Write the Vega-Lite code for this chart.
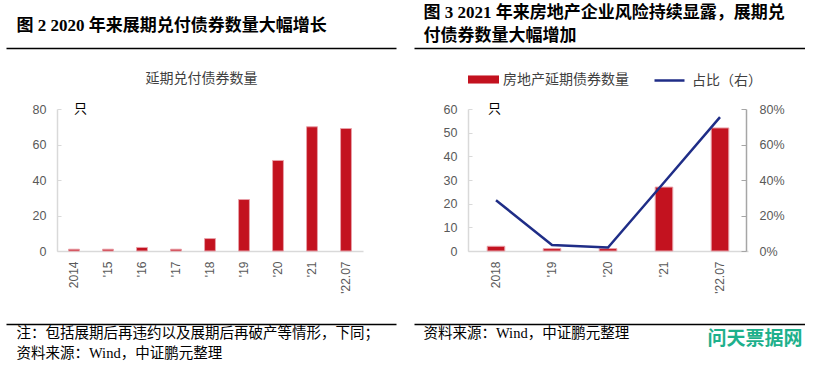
{
  "$schema": "https://vega.github.io/schema/vega-lite/v6.json",
  "padding": {"left": 3, "top": 0, "right": 0, "bottom": 0},
  "background": "white",
  "bounds": "flush",
  "spacing": 18,
  "resolve": {"scale": {"fill": "independent", "stroke": "independent"}, "legend": {"fill": "independent", "stroke": "independent"}},
  "config": {
    "view": {"stroke": null},
    "axis": {"labelFont": "Liberation Sans", "titleFont": "Noto Sans CJK SC", "grid": false},
    "legend": {"labelFont": "Noto Sans CJK SC"}
  },
  "hconcat": [
    {
      "width": 390,
      "height": 365,
      "layer": [
        {
          "data": {"values": [
            {"period": "2014", "count": 1},
            {"period": "'15", "count": 1},
            {"period": "'16", "count": 2},
            {"period": "'17", "count": 1},
            {"period": "'18", "count": 7},
            {"period": "'19", "count": 29},
            {"period": "'20", "count": 51},
            {"period": "'21", "count": 70},
            {"period": "'22.07", "count": 69}
          ]},
          "mark": {"type": "bar", "color": "#C3121F", "stroke": "#E8A0A8", "strokeWidth": 1},
          "encoding": {
            "x": {"field": "period", "type": "ordinal", "sort": null,
              "scale": {"range": [51, 357], "paddingInner": 0.68, "paddingOuter": 0.34},
              "axis": {"orient": "bottom", "offset": -114, "domainColor": "#D9D9D9", "domainWidth": 1.5, "ticks": false, "labelAngle": -90, "labelAlign": "right", "labelBaseline": "middle", "labelPadding": 10, "labelFontSize": 12, "labelColor": "#595959", "title": null}},
            "y": {"field": "count", "type": "quantitative",
              "scale": {"domain": [0, 80], "range": [251, 109], "nice": false, "zero": true},
              "axis": {"orient": "left", "offset": -51, "values": [0, 20, 40, 60, 80], "domainColor": "#D9D9D9", "domainWidth": 1.5, "tickColor": "#D9D9D9", "tickSize": -4, "labelPadding": 15, "labelFontSize": 12.5, "labelColor": "#595959", "title": "只", "titleAngle": 0, "titleX": 23, "titleY": 108, "titleAlign": "center", "titleBaseline": "middle", "titleFontSize": 13, "titleFontWeight": "normal", "titleColor": "#000000"}}
          }
        },
        {
          "data": {"values": [{}]},
          "mark": {"type": "point", "opacity": 0},
          "encoding": {
            "x": {"datum": 0, "type": "quantitative", "scale": {"domain": [0, 1]},
              "axis": {"orient": "top", "offset": 0, "domain": false, "ticks": false, "labels": false, "title": "图 2  2020 年来展期兑付债券数量大幅增长", "titleX": 10, "titleY": 25.5, "titleAlign": "left", "titleBaseline": "middle", "titleFontSize": 17, "titleFontWeight": "bold", "titleColor": "#000000", "titleFont": "Liberation Serif, Noto Sans CJK SC"}}
          }
        },
        {
          "data": {"values": [{}]},
          "mark": {"type": "point", "opacity": 0},
          "encoding": {
            "x": {"datum": 0, "type": "quantitative", "scale": {"domain": [0, 1]},
              "axis": {"orient": "top", "offset": -48, "domain": true, "domainColor": "#000000", "domainWidth": 1.5, "ticks": false, "labels": false, "title": "延期兑付债券数量", "titleX": 195, "titleY": 30, "titleAlign": "center", "titleBaseline": "middle", "titleFontSize": 14, "titleFontWeight": "normal", "titleColor": "#404040"}}
          }
        },
        {
          "data": {"values": [{}]},
          "mark": {"type": "point", "opacity": 0},
          "encoding": {
            "x": {"datum": 0, "type": "quantitative", "scale": {"domain": [0, 1]},
              "axis": {"orient": "bottom", "offset": -41, "domain": true, "domainColor": "#000000", "domainWidth": 1.5, "ticks": false, "labels": false, "title": ["注：包括展期后再违约以及展期后再破产等情形，下同；", "资料来源：Wind，中证鹏元整理"], "titleX": 10, "titleY": 2, "titleAlign": "left", "titleBaseline": "top", "titleLineHeight": 20.5, "titleFontSize": 14.5, "titleFontWeight": "normal", "titleColor": "#000000", "titleFont": "Liberation Serif, Noto Sans CJK SC"}}
          }
        }
      ],
      "resolve": {"scale": {"x": "independent", "y": "independent"}}
    },
    {
      "width": 391,
      "height": 365,
      "layer": [
        {
          "data": {"values": [
            {"period": "2018", "count": 2, "share": 0.286},
            {"period": "'19", "count": 1, "share": 0.034},
            {"period": "'20", "count": 1, "share": 0.0196},
            {"period": "'21", "count": 27, "share": 0.386},
            {"period": "'22.07", "count": 52, "share": 0.754}
          ]},
          "layer": [
            {
              "mark": {"type": "bar", "stroke": "#E8A0A8", "strokeWidth": 1},
              "encoding": {
                "x": {"field": "period", "type": "ordinal", "sort": null,
                  "scale": {"range": [54, 334], "paddingInner": 0.686, "paddingOuter": 0.343},
                  "axis": {"orient": "bottom", "offset": -114, "domainColor": "#D9D9D9", "domainWidth": 1.5, "ticks": false, "labelAngle": -90, "labelAlign": "right", "labelBaseline": "middle", "labelPadding": 10, "labelFontSize": 12, "labelColor": "#595959", "title": null}},
                "y": {"field": "count", "type": "quantitative",
                  "scale": {"domain": [0, 60], "range": [251, 109], "nice": false},
                  "axis": {"orient": "left", "offset": -54, "values": [0, 10, 20, 30, 40, 50, 60], "domainColor": "#D9D9D9", "domainWidth": 1.5, "tickColor": "#D9D9D9", "tickSize": -4, "labelPadding": 15, "labelFontSize": 12.5, "labelColor": "#595959", "title": "只", "titleAngle": 0, "titleX": 26, "titleY": 108, "titleAlign": "center", "titleBaseline": "middle", "titleFontSize": 13, "titleFontWeight": "normal", "titleColor": "#000000"}},
                "fill": {"datum": "房地产延期债券数量", "type": "nominal",
                  "scale": {"range": ["#C3121F"]},
                  "legend": {"orient": "none", "legendX": 54, "legendY": 64, "title": null, "padding": 0, "symbolType": "M-1,-0.26H1V0.26H-1Z", "symbolSize": 961, "symbolStrokeWidth": 0, "labelFontSize": 14, "labelColor": "#404040", "labelOffset": 4}}
              }
            },
            {
              "mark": {"type": "line", "strokeWidth": 2.5},
              "encoding": {
                "x": {"field": "period", "type": "ordinal", "sort": null},
                "y": {"field": "share", "type": "quantitative",
                  "scale": {"domain": [0, 0.8], "range": [251, 109], "nice": false},
                  "axis": {"orient": "right", "offset": -59, "values": [0, 0.2, 0.4, 0.6, 0.8], "format": ".0%", "domainColor": "#A6A6A6", "domainWidth": 1.5, "tickColor": "#A6A6A6", "tickSize": -5, "labelPadding": 18, "labelFontSize": 12.5, "labelColor": "#595959", "title": null}},
                "stroke": {"datum": "占比（右）", "type": "nominal",
                  "scale": {"range": ["#1F2D87"]},
                  "legend": {"orient": "none", "legendX": 239, "legendY": 64, "title": null, "padding": 0, "symbolType": "stroke", "symbolSize": 900, "symbolStrokeWidth": 2.5, "labelFontSize": 14, "labelColor": "#404040", "labelOffset": 6}}
              }
            }
          ],
          "resolve": {"scale": {"y": "independent"}}
        },
        {
          "data": {"values": [{}]},
          "mark": {"type": "point", "opacity": 0},
          "encoding": {
            "x": {"datum": 0, "type": "quantitative", "scale": {"domain": [0, 1]},
              "axis": {"orient": "top", "offset": 0, "domain": false, "ticks": false, "labels": false, "title": ["图 3  2021 年来房地产企业风险持续显露，展期兑", "付债券数量大幅增加"], "titleX": 9, "titleY": 4.5, "titleAlign": "left", "titleBaseline": "top", "titleLineHeight": 22.5, "titleFontSize": 17, "titleFontWeight": "bold", "titleColor": "#000000", "titleFont": "Liberation Serif, Noto Sans CJK SC"}}
          }
        },
        {
          "data": {"values": [{}]},
          "mark": {"type": "point", "opacity": 0},
          "encoding": {
            "x": {"datum": 0, "type": "quantitative", "scale": {"domain": [0, 1]},
              "axis": {"orient": "top", "offset": -48, "domain": true, "domainColor": "#000000", "domainWidth": 1.5, "ticks": false, "labels": false, "title": null}}
          }
        },
        {
          "data": {"values": [{}]},
          "mark": {"type": "point", "opacity": 0},
          "encoding": {
            "x": {"datum": 0, "type": "quantitative", "scale": {"domain": [0, 1]},
              "axis": {"orient": "bottom", "offset": -41, "domain": true, "domainColor": "#000000", "domainWidth": 1.5, "ticks": false, "labels": false, "title": "资料来源：Wind，中证鹏元整理", "titleX": 9, "titleY": 2, "titleAlign": "left", "titleBaseline": "top", "titleFontSize": 14.5, "titleFontWeight": "normal", "titleColor": "#000000", "titleFont": "Liberation Serif, Noto Sans CJK SC"}}
          }
        },
        {
          "data": {"values": [{}]},
          "mark": {"type": "point", "opacity": 0},
          "encoding": {
            "x": {"datum": 0, "type": "quantitative", "scale": {"domain": [0, 1]},
              "axis": {"orient": "bottom", "offset": -41, "domain": false, "ticks": false, "labels": false, "title": "问天票据网", "titleX": 388, "titleY": 14, "titleAlign": "right", "titleBaseline": "middle", "titleFontSize": 19, "titleFontWeight": "bold", "titleColor": "#1DB08C", "titleFont": "Noto Sans CJK SC"}}
          }
        }
      ],
      "resolve": {"scale": {"x": "independent", "y": "independent"}}
    }
  ]
}
